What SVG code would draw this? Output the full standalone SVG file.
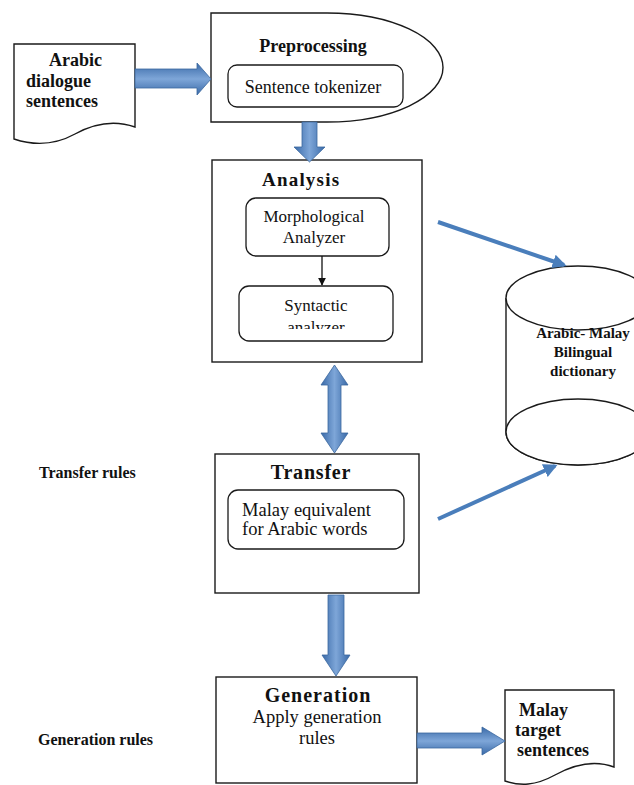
<svg xmlns="http://www.w3.org/2000/svg" width="634" height="785" viewBox="0 0 634 785" font-family="'Liberation Serif', 'Times New Roman', 'DejaVu Serif', serif">
<style>
.box{fill:#fff;stroke:#1a1a1a;stroke-width:1.4}
.rbox{fill:#fff;stroke:#1a1a1a;stroke-width:1.3}
text{font-family:"Liberation Serif","Times New Roman","DejaVu Serif",serif;fill:#111}
.b{font-weight:bold}
.blk{stroke:#3a679e;stroke-width:0.8}
.bl{stroke:#4a7ebb;stroke-width:4;fill:none}
</style>
<defs>
<linearGradient id="gv" x1="0" y1="0" x2="1" y2="0">
<stop offset="0" stop-color="#3a6aa8"/><stop offset="0.5" stop-color="#7ea6d8"/><stop offset="1" stop-color="#3a6aa8"/>
</linearGradient>
<linearGradient id="gh" x1="0" y1="0" x2="0" y2="1">
<stop offset="0" stop-color="#3a6aa8"/><stop offset="0.5" stop-color="#7ea6d8"/><stop offset="1" stop-color="#3a6aa8"/>
</linearGradient>
<marker id="ab" viewBox="0 0 10 10" refX="8" refY="5" markerWidth="14" markerHeight="14" markerUnits="userSpaceOnUse" orient="auto">
<path d="M0,0 L10,5 L0,10 z" fill="#4a7ebb"/>
</marker>
<marker id="ak" viewBox="0 0 10 10" refX="9" refY="5" markerWidth="8" markerHeight="8" markerUnits="userSpaceOnUse" orient="auto">
<path d="M0,0 L10,5 L0,10 z" fill="#111"/>
</marker>
<clipPath id="clipSyn"><rect x="240" y="287" width="152" height="42"/></clipPath>
</defs>

<g id="arabic-input">
<path class="box" d="M14,44 H135 V127 C115,120 95,123 75,134 C55,145 35,146 14,139 Z"/>
<text class="b" x="49" y="66" font-size="18">Arabic</text>
<text class="b" x="26" y="87" font-size="18">dialogue</text>
<text class="b" x="26" y="107" font-size="18">sentences</text>
</g>

<g id="preprocessing">
<path class="box" d="M211,13 H327 A116,54.5 0 0 1 327,122 H211 Z"/>
<text class="b" x="313" y="52" font-size="18" text-anchor="middle">Preprocessing</text>
<rect class="rbox" x="228" y="65" width="175" height="42" rx="9"/>
<text x="313" y="93" font-size="18" text-anchor="middle">Sentence tokenizer</text>
</g>

<g id="analysis">
<rect class="box" x="212" y="160" width="210" height="202"/>
<text class="b" x="262" y="186" font-size="19" letter-spacing="1.2">Analysis</text>
</g>

<g id="morphological">
<rect class="rbox" x="246" y="198" width="143" height="58" rx="10"/>
<text x="314" y="222" font-size="17" text-anchor="middle">Morphological</text>
<text x="314" y="243" font-size="17" text-anchor="middle">Analyzer</text>
</g>

<g id="syntactic">
<rect class="rbox" x="239" y="286" width="154" height="55" rx="10"/>
<text x="316" y="311" font-size="17" text-anchor="middle">Syntactic</text>
<text x="316" y="333" font-size="17" text-anchor="middle" clip-path="url(#clipSyn)">analyzer</text>
</g>

<g id="dictionary">
<path class="box" d="M506,298 V432 A72,33 0 0 0 650,432 V298"/>
<ellipse class="box" cx="578" cy="298" rx="72" ry="32"/>
<ellipse class="box" cx="578" cy="432" rx="72" ry="33"/>
<text class="b" x="583" y="338" font-size="15" text-anchor="middle">Arabic- Malay</text>
<text class="b" x="583" y="357" font-size="15" text-anchor="middle">Bilingual</text>
<text class="b" x="583" y="376" font-size="15" text-anchor="middle">dictionary</text>
</g>

<g id="transfer-rules-label">
<text class="b" x="39" y="478" font-size="16">Transfer rules</text>
</g>

<g id="transfer">
<rect class="box" x="215" y="454" width="204" height="139"/>
<text class="b" x="311" y="479" font-size="20" text-anchor="middle" letter-spacing="0.8">Transfer</text>
<rect class="rbox" x="228" y="490" width="176" height="59" rx="10"/>
<text x="242" y="516" font-size="18.5">Malay equivalent</text>
<text x="242" y="535" font-size="18.5">for Arabic words</text>
</g>

<g id="generation-rules-label">
<text class="b" x="38" y="745" font-size="16">Generation rules</text>
</g>

<g id="generation">
<rect class="box" x="216" y="677" width="201" height="106"/>
<text class="b" x="318" y="702" font-size="20" text-anchor="middle" letter-spacing="1">Generation</text>
<text x="317" y="723" font-size="18.5" text-anchor="middle">Apply generation</text>
<text x="317" y="744" font-size="18.5" text-anchor="middle">rules</text>
</g>

<g id="malay-output">
<path class="box" d="M505,690 H614 V767 C595,760 575,764 555,775 C535,786 520,786 505,781 Z"/>
<text class="b" x="519" y="716" font-size="18">Malay</text>
<text class="b" x="515" y="736" font-size="18">target</text>
<text class="b" x="517" y="756" font-size="18">sentences</text>
</g>

<g id="connectors">
<polygon class="blk" fill="url(#gh)" points="135,69 197,69 197,63 211,79 197,95 197,88 135,88"/>
<polygon class="blk" fill="url(#gv)" points="302,122 317,122 317,147 325,147 309.5,162 294,147 302,147"/>
<line x1="322" y1="256" x2="322" y2="285" stroke="#111" stroke-width="1.3" marker-end="url(#ak)"/>
<polygon class="blk" fill="url(#gv)" points="334.5,365 348,385 341,385 341,433 348,433 334.5,453 321,433 328,433 328,385 321,385"/>
<line class="bl" x1="438" y1="222" x2="564" y2="265" marker-end="url(#ab)"/>
<line class="bl" x1="438" y1="519" x2="555" y2="466" marker-end="url(#ab)"/>
<polygon class="blk" fill="url(#gv)" points="328,595 344,595 344,655 350,655 336,676 322,655 328,655"/>
<polygon class="blk" fill="url(#gh)" points="417,733 482,733 482,727 505,741 482,755 482,748 417,748"/>
</g>
</svg>
